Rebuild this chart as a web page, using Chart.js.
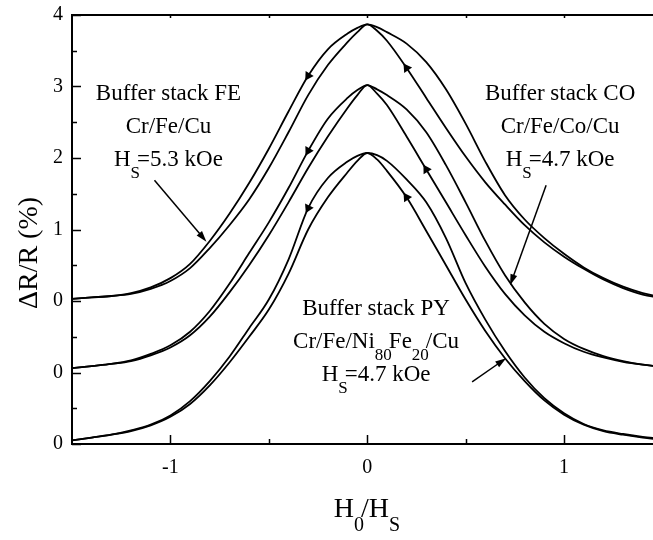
<!DOCTYPE html>
<html>
<head>
<meta charset="utf-8">
<script src="https://cdn.jsdelivr.net/npm/chart.js@4.4.1/dist/chart.umd.min.js"></script>
<style>
  html, body { margin: 0; padding: 0; background: #fff; }
  #wrap { width: 653px; height: 540px; }
</style>
</head>
<body>
<div id="wrap"><canvas id="mr"></canvas></div>
<script>
// reduced field H0/HS, shared by every branch
const H = [-1.5, -1.4, -1.3, -1.2, -1.1, -1.0, -0.9, -0.8, -0.7, -0.6, -0.5, -0.4, -0.3, -0.2, -0.1, -0.05, 0,
           0.05, 0.1, 0.2, 0.3, 0.4, 0.5, 0.6, 0.7, 0.8, 0.9, 1.0, 1.1, 1.2, 1.3, 1.4, 1.5];

// stacked dR/R curves (axis units, each sample offset by its own baseline)
// DOWN = field sweep from + to -, UP = sweep from - to +
const FE_DOWN = [2.03, 2.05, 2.07, 2.11, 2.19, 2.32, 2.52, 2.84, 3.22, 3.65, 4.13, 4.65, 5.15, 5.52, 5.74, 5.82, 5.87,
                 5.78, 5.64, 5.26, 4.84, 4.42, 4.02, 3.66, 3.35, 3.06, 2.82, 2.62, 2.45, 2.30, 2.18, 2.09, 2.04];
const FE_UP   = [2.03, 2.05, 2.07, 2.10, 2.17, 2.28, 2.46, 2.74, 3.06, 3.42, 3.86, 4.36, 4.88, 5.30, 5.62, 5.76, 5.87,
                 5.83, 5.76, 5.60, 5.34, 4.96, 4.48, 3.95, 3.48, 3.14, 2.88, 2.66, 2.47, 2.32, 2.20, 2.11, 2.05];
const CO_DOWN = [1.06, 1.09, 1.12, 1.17, 1.26, 1.38, 1.57, 1.86, 2.24, 2.67, 3.10, 3.58, 4.10, 4.55, 4.84, 4.95, 5.02,
                 4.90, 4.74, 4.30, 3.84, 3.38, 2.92, 2.48, 2.10, 1.80, 1.57, 1.41, 1.29, 1.21, 1.15, 1.11, 1.08];
const CO_UP   = [1.06, 1.09, 1.12, 1.16, 1.24, 1.35, 1.52, 1.78, 2.12, 2.50, 2.92, 3.38, 3.86, 4.30, 4.70, 4.88, 5.02,
                 4.96, 4.88, 4.68, 4.36, 3.90, 3.38, 2.84, 2.36, 1.98, 1.68, 1.47, 1.33, 1.23, 1.16, 1.11, 1.08];
const PY_DOWN = [0.05, 0.09, 0.13, 0.19, 0.27, 0.40, 0.60, 0.88, 1.22, 1.62, 2.02, 2.58, 3.30, 3.72, 3.95, 4.03, 4.07,
                 3.98, 3.82, 3.45, 2.98, 2.50, 2.02, 1.58, 1.20, 0.88, 0.61, 0.41, 0.27, 0.18, 0.13, 0.09, 0.06];
const PY_UP   = [0.05, 0.09, 0.13, 0.18, 0.26, 0.38, 0.56, 0.82, 1.14, 1.50, 1.88, 2.38, 3.00, 3.45, 3.80, 3.96, 4.07,
                 4.04, 3.96, 3.70, 3.38, 2.88, 2.25, 1.74, 1.30, 0.93, 0.64, 0.43, 0.28, 0.19, 0.14, 0.10, 0.07];

// sample index carrying a sweep-direction arrow
const FE_ARROWS = [12, 19];
const CO_ARROWS = [12, 20];
const PY_ARROWS = [12, 19];

const X_TICKS = [-1, -0.5, 0, 0.5, 1];
const X_LABELS = ['-1', '', '0', '', '1'];
const Y_TICKS = [0, 0.5, 1, 1.5, 2, 2.5, 3, 3.5, 4, 4.5, 5, 5.5, 6];
const Y_LABELS = ['0', '', '0', '', '0', '', '1', '', '2', '', '3', '', '4'];

const SERIF = '"Liberation Serif", "Times New Roman", serif';

function pts(vals) {
    return H.map(function(x, i) { return { x: x, y: vals[i] }; });
}

// point the triangle back along the branch (towards smaller field)
function arrowAngle(ctx) {
    var d = ctx.dataset.data, i = ctx.dataIndex, c = ctx.chart;
    var p0 = d[i - 1], p1 = d[i + 1];
    if (!p0 || !p1 || !c.scales.x) return 0;
    var dx = c.scales.x.getPixelForValue(p0.x) - c.scales.x.getPixelForValue(p1.x);
    var dy = c.scales.y.getPixelForValue(p0.y) - c.scales.y.getPixelForValue(p1.y);
    return Math.atan2(dx, -dy) * 180 / Math.PI;
}

function branch(label, vals, arrows) {
    return {
        label: label,
        data: pts(vals),
        arrows: arrows || [],
        showLine: true,
        borderColor: '#000',
        borderWidth: 1.8,
        cubicInterpolationMode: 'monotone',
        pointStyle: 'triangle',
        pointBackgroundColor: '#000',
        pointBorderWidth: 0,
        pointRadius: function(ctx) { return ctx.dataset.arrows.indexOf(ctx.dataIndex) >= 0 ? 5.5 : 0; },
        pointRotation: arrowAngle
    };
}

// text and pointer arrows, in data units
const LABELS = [
    { x: -1.01, y: 4.81, lines: [[['Buffer stack FE', 0]], [['Cr/Fe/Cu', 0]], [['H', 0], ['S', 1], ['=5.3 kOe', 0]]] },
    { x: 0.98, y: 4.81, lines: [[['Buffer stack CO', 0]], [['Cr/Fe/Co/Cu', 0]], [['H', 0], ['S', 1], ['=4.7 kOe', 0]]] },
    { x: 0.045, y: 1.80, lines: [[['Buffer stack PY', 0]], [['Cr/Fe/Ni', 0], ['80', 1], ['Fe', 0], ['20', 1], ['/Cu', 0]], [['H', 0], ['S', 1], ['=4.7 kOe', 0]]] }
];
const POINTERS = [
    { from: [-1.081, 3.69], to: [-0.817, 2.83] },
    { from: [0.909, 3.62], to: [0.726, 2.22] },
    { from: [0.533, 0.87], to: [0.706, 1.20] }
];

function drawRich(ctx, parts, cx, base, size) {
    var sub = Math.round(size * 0.72);
    var w = 0;
    parts.forEach(function(p) {
        ctx.font = (p[1] ? sub : size) + 'px ' + SERIF;
        w += ctx.measureText(p[0]).width - (p[1] ? 3 : 0);
    });
    var x = cx - w / 2;
    ctx.textAlign = 'left';
    ctx.textBaseline = 'alphabetic';
    parts.forEach(function(p) {
        ctx.font = (p[1] ? sub : size) + 'px ' + SERIF;
        ctx.fillText(p[0], x, base + (p[1] ? size * 0.5 : 0));
        x += ctx.measureText(p[0]).width - (p[1] ? 3 : 0);
    });
}

const decor = {
    id: 'decor',
    afterDraw: function(chart) {
        var ctx = chart.ctx, a = chart.chartArea;
        var xs = chart.scales.x, ys = chart.scales.y;
        ctx.save();
        ctx.strokeStyle = '#000';
        ctx.fillStyle = '#000';

        // frame top and inward ticks
        ctx.lineWidth = 2;
        ctx.beginPath();
        ctx.moveTo(a.left - 1, a.top);
        ctx.lineTo(a.right, a.top);
        ctx.stroke();
        ctx.lineWidth = 1.5;
        ctx.beginPath();
        X_TICKS.forEach(function(v) {
            var px = Math.round(xs.getPixelForValue(v)) + 0.5;
            var len = Number.isInteger(v) ? 9 : 5;
            ctx.moveTo(px, a.bottom);
            ctx.lineTo(px, a.bottom - len);
            ctx.moveTo(px, a.top);
            ctx.lineTo(px, a.top + 3);
        });
        Y_TICKS.forEach(function(v) {
            var py = Math.round(ys.getPixelForValue(v)) + 0.5;
            var len = Number.isInteger(v) ? 9 : 5;
            ctx.moveTo(a.left, py);
            ctx.lineTo(a.left + len, py);
        });
        ctx.stroke();

        // annotation text
        LABELS.forEach(function(l) {
            var cx = xs.getPixelForValue(l.x);
            var by = ys.getPixelForValue(l.y);
            l.lines.forEach(function(parts, k) {
                drawRich(ctx, parts, cx, by + k * 33, 23);
            });
        });

        // pointer arrows
        POINTERS.forEach(function(p) {
            var x0 = xs.getPixelForValue(p.from[0]), y0 = ys.getPixelForValue(p.from[1]);
            var x1 = xs.getPixelForValue(p.to[0]), y1 = ys.getPixelForValue(p.to[1]);
            var ang = Math.atan2(y1 - y0, x1 - x0);
            ctx.lineWidth = 1.5;
            ctx.beginPath();
            ctx.moveTo(x0, y0);
            ctx.lineTo(x1 - 8 * Math.cos(ang), y1 - 8 * Math.sin(ang));
            ctx.stroke();
            ctx.beginPath();
            ctx.moveTo(x1, y1);
            ctx.lineTo(x1 - 11 * Math.cos(ang) + 3.5 * Math.sin(ang), y1 - 11 * Math.sin(ang) - 3.5 * Math.cos(ang));
            ctx.lineTo(x1 - 11 * Math.cos(ang) - 3.5 * Math.sin(ang), y1 - 11 * Math.sin(ang) + 3.5 * Math.cos(ang));
            ctx.closePath();
            ctx.fill();
        });

        // axis titles
        drawRich(ctx, [['H', 0], ['0', 1], ['/H', 0], ['S', 1]], (a.left + a.right) / 2 + 3, 517, 28);
        ctx.translate(37, 253);
        ctx.rotate(-Math.PI / 2);
        ctx.font = '28px ' + SERIF;
        ctx.textAlign = 'center';
        ctx.textBaseline = 'alphabetic';
        ctx.fillText('\u0394R/R (%)', 0, 0);
        ctx.restore();
    }
};

new Chart(document.getElementById('mr'), {
    type: 'scatter',
    data: {
        datasets: [
            branch('FE down', FE_DOWN, FE_ARROWS),
            branch('FE up', FE_UP),
            branch('CO down', CO_DOWN, CO_ARROWS),
            branch('CO up', CO_UP),
            branch('PY down', PY_DOWN, PY_ARROWS),
            branch('PY up', PY_UP)
        ]
    },
    options: {
        responsive: true,
        maintainAspectRatio: false,
        animation: false,
        layout: { padding: { top: 15, right: 0, left: 0, bottom: 0 } },
        plugins: { legend: { display: false }, tooltip: { enabled: false } },
        scales: {
            x: {
                type: 'linear',
                min: -1.5,
                max: 1.452,
                afterBuildTicks: function(s) { s.ticks = X_TICKS.map(function(v) { return { value: v }; }); },
                afterFit: function(s) { s.height = 96; },
                grid: { display: false },
                border: { display: true, color: '#000', width: 2 },
                ticks: {
                    autoSkip: false,
                    maxRotation: 0,
                    padding: 4,
                    color: '#000',
                    font: { family: SERIF, size: 20 },
                    callback: function(v, i) { return X_LABELS[i]; }
                }
            },
            y: {
                type: 'linear',
                min: 0,
                max: 6,
                afterBuildTicks: function(s) { s.ticks = Y_TICKS.map(function(v) { return { value: v }; }); },
                afterFit: function(s) { s.width = 72; },
                grid: { display: false },
                border: { display: true, color: '#000', width: 2 },
                ticks: {
                    autoSkip: false,
                    padding: 1,
                    color: '#000',
                    font: { family: SERIF, size: 20 },
                    callback: function(v, i) { return Y_LABELS[i]; }
                }
            }
        }
    },
    plugins: [decor]
});
</script>
</body>
</html>
